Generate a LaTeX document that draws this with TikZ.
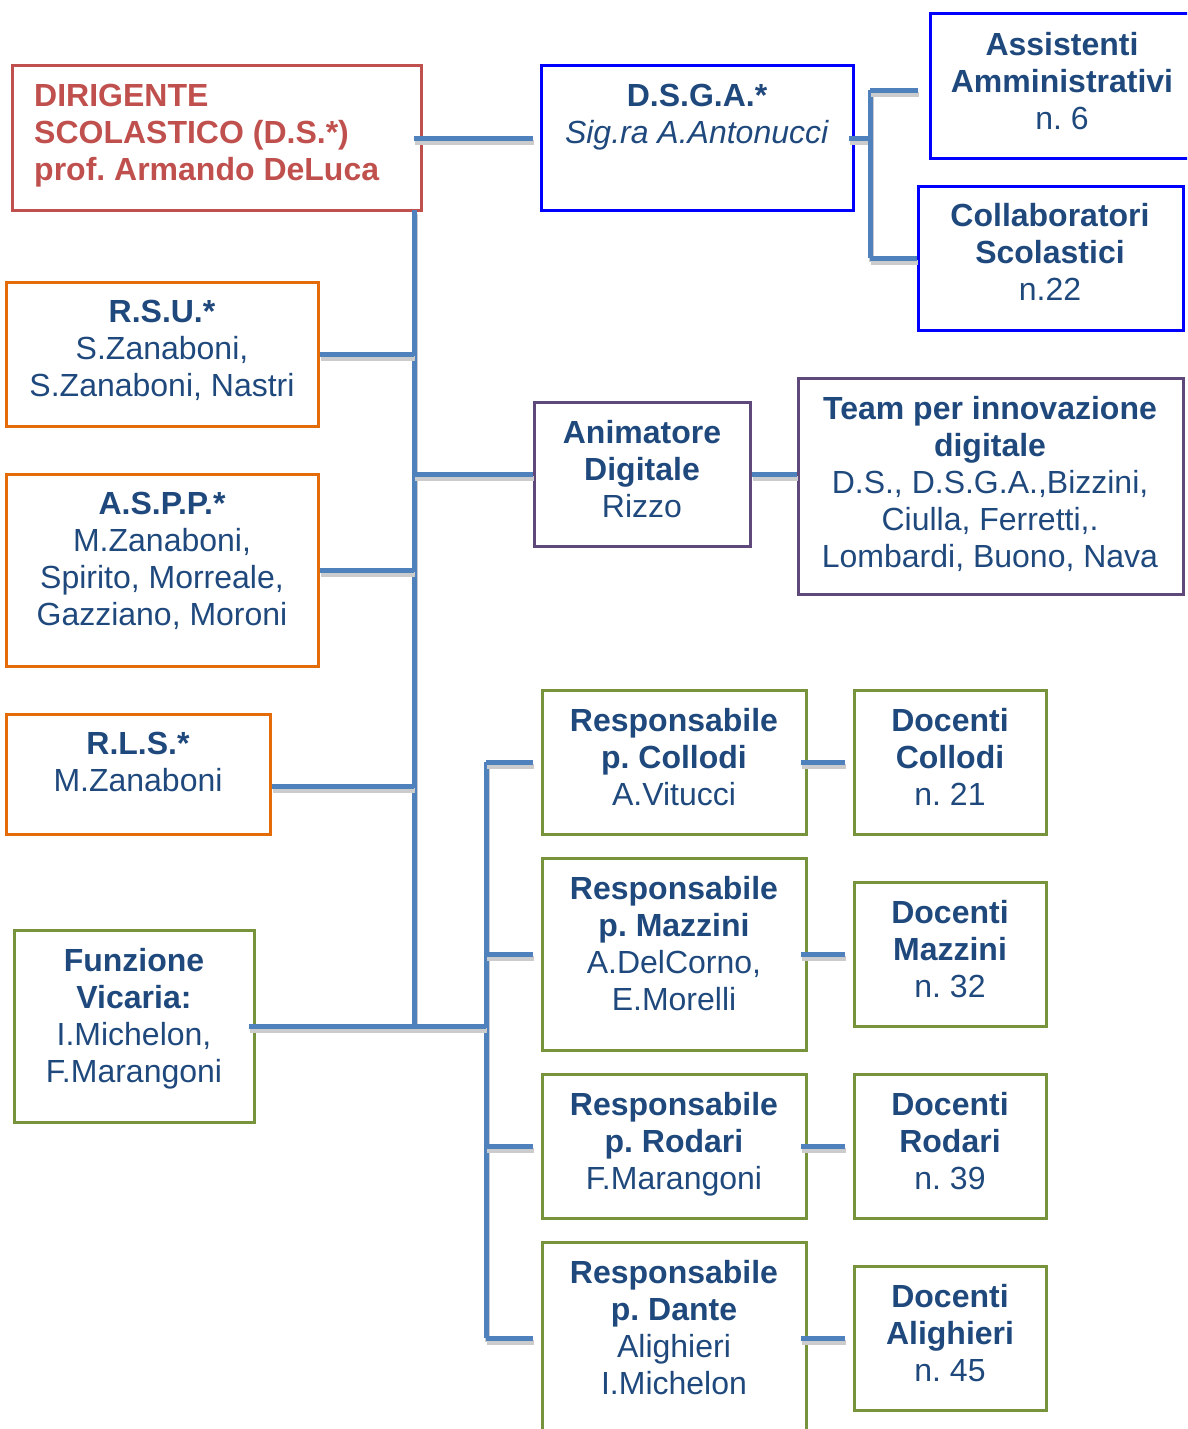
\documentclass[tikz,border=0pt]{standalone}
\usepackage{fontspec}
\setmainfont{Liberation Sans}
\usetikzlibrary{calc}
\frenchspacing
\definecolor{linkblue}{HTML}{4F81BD}
\definecolor{shadowgray}{HTML}{CCCCCC}
\definecolor{txtblue}{HTML}{1F497D}
\definecolor{dsred}{HTML}{C0504D}
\definecolor{boxorange}{HTML}{E36C09}
\definecolor{boxgreen}{HTML}{77933C}
\definecolor{boxpurple}{HTML}{5F497A}
\definecolor{boxblue}{HTML}{0000FF}
\tikzset{
  orgbox/.style={draw=#1, line width=3pt, inner sep=0pt, rectangle},
  orgtext/.style={anchor=north, inner sep=0pt, align=center, text=txtblue,
    font=\fontsize{32}{37}\selectfont\frenchspacing},
  linkline/.style={draw=linkblue, line width=5pt},
  shadowline/.style={draw=shadowgray, line width=5pt, transform canvas={shift={(1pt,-4pt)}}},
}
\newcommand\linkdraw[1]{\draw[shadowline] #1; \draw[linkline] #1;}
\begin{document}
\begin{tikzpicture}[x=1pt,y=-1pt]
\useasboundingbox (0,0) rectangle (1187,1429);
\clip (0,0) rectangle (1187,1429);
% boxes
\node[orgbox=dsred, minimum width=409pt, minimum height=144pt] (ds) at (216.5,138) {};
\node[orgbox=boxblue, minimum width=312pt, minimum height=144pt] (dsga) at (697,138) {};
\node[orgbox=boxblue, minimum width=264pt, minimum height=144pt] (ass) at (1062,86) {};
\node[orgbox=boxblue, minimum width=265pt, minimum height=144pt] (col) at (1050.5,258) {};
\node[orgbox=boxorange, minimum width=312pt, minimum height=144pt] (rsu) at (162,354) {};
\node[orgbox=boxorange, minimum width=312pt, minimum height=192pt] (aspp) at (162,570) {};
\node[orgbox=boxorange, minimum width=264pt, minimum height=120pt] (rls) at (138,774) {};
\node[orgbox=boxgreen, minimum width=240pt, minimum height=192pt] (fv) at (134,1026) {};
\node[orgbox=boxpurple, minimum width=216pt, minimum height=144pt] (anim) at (642,474) {};
\node[orgbox=boxpurple, minimum width=385pt, minimum height=216pt] (team) at (990.5,486) {};
\node[orgbox=boxgreen, minimum width=264pt, minimum height=144pt] (rc) at (674,762) {};
\node[orgbox=boxgreen, minimum width=192pt, minimum height=144pt] (dc) at (950,762) {};
\node[orgbox=boxgreen, minimum width=264pt, minimum height=192pt] (rm) at (674,954) {};
\node[orgbox=boxgreen, minimum width=192pt, minimum height=144pt] (dm) at (950,954) {};
\node[orgbox=boxgreen, minimum width=264pt, minimum height=144pt] (rr) at (674,1146) {};
\node[orgbox=boxgreen, minimum width=192pt, minimum height=144pt] (dr) at (950,1146) {};
\node[orgbox=boxgreen, minimum width=264pt, minimum height=192pt] (rd) at (674,1338) {};
\node[orgbox=boxgreen, minimum width=192pt, minimum height=144pt] (da) at (950,1338) {};
% texts
\node[orgtext, anchor=north west, align=left, text=dsred] (tds) at (34,84) {\bfseries DIRIGENTE\\\bfseries SCOLASTICO (D.S.*)\\\bfseries prof. Armando DeLuca};
\node[orgtext] (tdsga) at (697,84) {\textbf{D.S.G.A.*}\\\textit{Sig.ra A.Antonucci}};
\node[orgtext] (tass) at (1062,32) {\textbf{Assistenti}\\\textbf{Amministrativi}\\n. 6};
\node[orgtext] (tcol) at (1050,203) {\textbf{Collaboratori}\\\textbf{Scolastici}\\n.22};
\node[orgtext] (trsu) at (162,300) {\textbf{R.S.U.*}\\S.Zanaboni,\\S.Zanaboni, Nastri};
\node[orgtext] (taspp) at (162,492) {\textbf{A.S.P.P.*}\\M.Zanaboni,\\Spirito, Morreale,\\Gazziano, Moroni};
\node[orgtext] (trls) at (138,732) {\textbf{R.L.S.*}\\M.Zanaboni};
\node[orgtext] (tfv) at (134,948) {\textbf{Funzione}\\\textbf{Vicaria:}\\I.Michelon,\\F.Marangoni};
\node[orgtext] (tanim) at (642,420) {\textbf{Animatore}\\\textbf{Digitale}\\Rizzo};
\node[orgtext] (tteam) at (990,396) {\textbf{Team per innovazione}\\\textbf{digitale}\\D.S., D.S.G.A.,Bizzini,\\Ciulla, Ferretti,.\\Lombardi, Buono, Nava};
\node[orgtext] (trc) at (674,708) {\textbf{Responsabile}\\\textbf{p. Collodi}\\A.Vitucci};
\node[orgtext] (tdc) at (950,708) {\textbf{Docenti}\\\textbf{Collodi}\\n. 21};
\node[orgtext] (trm) at (674,876) {\textbf{Responsabile}\\\textbf{p. Mazzini}\\A.DelCorno,\\E.Morelli};
\node[orgtext] (tdm) at (950,900) {\textbf{Docenti}\\\textbf{Mazzini}\\n. 32};
\node[orgtext] (trr) at (674,1092) {\textbf{Responsabile}\\\textbf{p. Rodari}\\F.Marangoni};
\node[orgtext] (tdr) at (950,1092) {\textbf{Docenti}\\\textbf{Rodari}\\n. 39};
\node[orgtext] (trd) at (674,1260) {\textbf{Responsabile}\\\textbf{p. Dante}\\Alighieri\\I.Michelon};
\node[orgtext] (tda) at (950,1284) {\textbf{Docenti}\\\textbf{Alighieri}\\n. 45};
% trunk coordinates
\coordinate (t1top) at (414,210);
\coordinate (t1bot) at (414,1026);
\coordinate (t2top) at (486,762);
\coordinate (t2bot) at (486,1338);
\coordinate (jx) at (870,138);
\coordinate (jtop) at (870,90);
\coordinate (jbot) at (870,258);
\coordinate (rlsout) at ([yshift=-12pt]rls.east);
% connectors
\linkdraw{(t1top) -- (t1bot)}
\linkdraw{(t2top) -- (t2bot)}
\linkdraw{(dsga.west -| t1top) -- ([xshift=-7pt]dsga.west)}
\linkdraw{(rsu.east) -- (rsu.east -| t1top)}
\linkdraw{(aspp.east) -- (aspp.east -| t1top)}
\linkdraw{(rlsout) -- (rlsout -| t1top)}
\linkdraw{(anim.west -| t1top) -- (anim.west)}
\linkdraw{(anim.east) -- (anim.east -| team.west)}
\linkdraw{([xshift=-7pt]fv.east) -- (fv.east -| t2top)}
\linkdraw{([xshift=-6pt]dsga.east) -- (jx)}
\linkdraw{(jtop) -- (jbot)}
\linkdraw{(jtop) -- ($(jtop)+(48,0)$)}
\linkdraw{(jbot) -- (col.west)}
\foreach \r/\d in {rc/dc, rm/dm, rr/dr, rd/da}{
  \linkdraw{(\r.west -| t2top) -- ([xshift=-8pt]\r.west)}
  \linkdraw{([xshift=-7pt]\r.east) -- ([xshift=-8pt]\d.west)}
}
\end{tikzpicture}
\end{document}
